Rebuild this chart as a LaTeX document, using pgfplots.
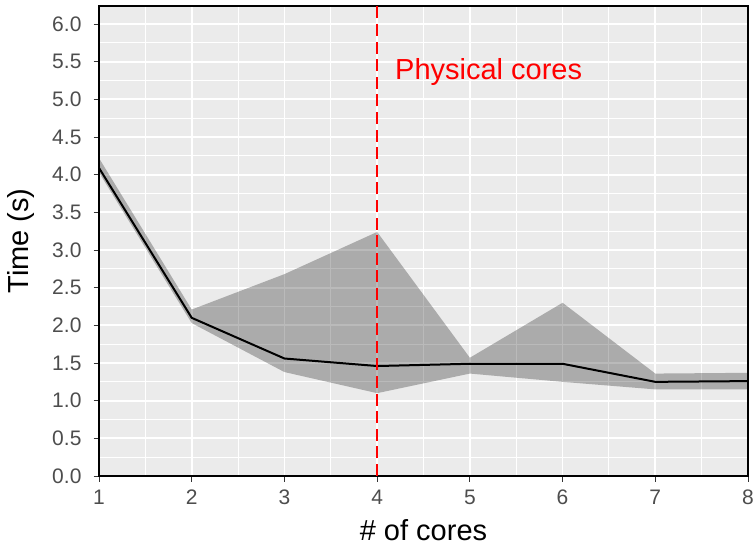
\documentclass[border=0pt]{standalone}
\usepackage{fontspec}
\setmainfont{Liberation Sans}
\usepackage{pgfplots}
\pgfplotsset{compat=1.18}

\definecolor{panelbg}{HTML}{EBEBEB}
\definecolor{ticktext}{HTML}{4D4D4D}
\definecolor{tickcol}{HTML}{333333}

\begin{document}
\begin{tikzpicture}
\begin{axis}[
    scale only axis,
    width=324.5pt, height=235pt,
    xmin=1, xmax=8, ymin=0, ymax=6.24,
    xtick={1,...,8},
    ytick={0,0.5,...,6.0},
    minor xtick={1.5,2.5,...,7.5},
    minor ytick={0.25,0.75,...,6.25},
    /pgf/number format/assume math mode=true,
    tick label style={font=\fontsize{10.5}{12}\selectfont, text=ticktext},
    yticklabel style={xshift=-2.5pt, /pgf/number format/.cd, fixed, fixed zerofill, precision=1},
    xticklabel style={yshift=-0.5pt},
    label style={font=\fontsize{14.5}{16}\selectfont},
    xlabel={\# of cores}, ylabel={Time (s)},
    xlabel style={at={(axis description cs:0.5,-0.115)}, anchor=center},
    ylabel style={at={(axis description cs:-0.12,0.5)}, anchor=center},
    tick align=outside, tick pos=left,
    major tick length=2.75pt, minor tick length=0pt,
    every tick/.style={tickcol, line width=0.5pt},
    axis background/.style={fill=panelbg},
    grid=both,
    major grid style={white, line width=0.9pt},
    minor grid style={white, line width=0.45pt},
    axis line style={black, line width=0.7pt},
    clip=true,
]
% ribbon: upper bound 1..8, then lower bound 8..1
\addplot[draw=none, fill=black, fill opacity=0.27] coordinates {
  (1,4.22) (2,2.21) (3,2.68) (4,3.24) (5,1.57) (6,2.30) (7,1.36) (8,1.37)
  (8,1.15) (7,1.15) (6,1.25) (5,1.36) (4,1.10) (3,1.38) (2,2.03) (1,4.03)
} -- cycle;
% mean
\addplot[black, line width=1pt] coordinates {
  (1,4.09) (2,2.10) (3,1.56) (4,1.46) (5,1.49) (6,1.49) (7,1.25) (8,1.26)
};
% physical cores
\addplot[red, line width=1.2pt, dash pattern=on 6pt off 2.8pt] coordinates {(4,0) (4,6.3)};
\node[anchor=base west, inner sep=0pt, text=red, font=\fontsize{14.5}{16}\selectfont]
  at (axis cs:4.19,5.27) {Physical cores};
\end{axis}
\pgfresetboundingbox
\path ([xshift=-49.5pt,yshift=-34.5pt]current axis.south west)
  rectangle ([xshift=4pt,yshift=3pt]current axis.north east);
\end{tikzpicture}
\end{document}
